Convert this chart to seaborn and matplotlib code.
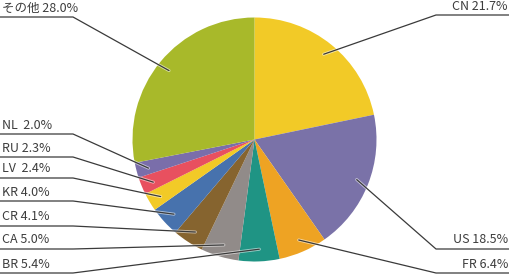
import numpy as np
import matplotlib
matplotlib.use("Agg")
import matplotlib.pyplot as plt
import matplotlib.patheffects as pe
import seaborn as sns

# ---- data ----
countries = ["CN", "US", "FR", "BR", "CA", "CR", "KR", "LV", "RU", "NL", "その他"]
shares = [21.7, 18.5, 6.4, 5.4, 5.0, 4.1, 4.0, 2.4, 2.3, 2.0, 28.0]
colors = ["#F2CA27", "#7A72A8", "#EEA323", "#1F9484", "#918B89", "#86642F",
          "#4772AD", "#F2CA27", "#E8505F", "#7A6EAA", "#A8B92A"]
# label layout (pixel rows of the underline, side of the chart)
label_side = ["R", "R", "R", "L", "L", "L", "L", "L", "L", "L", "L"]
underline_y = [15, 249, 273, 273, 249, 226, 201, 178, 157, 134, 17]
name_gap = [" ", " ", " ", " ", " ", " ", " ", "  ", " ", "  ", " "]

sns.set_theme(style="white")
plt.rcParams["font.family"] = ["Noto Sans CJK JP", "DejaVu Sans"]

W, H = 510, 275
fig = plt.figure(figsize=(W / 100, H / 100), dpi=100)
ax = fig.add_axes([0, 0, 1, 1])

cx, cy, R = 254.5, H - 139.5, 122
wedges, _ = ax.pie(shares, colors=colors, startangle=90, counterclock=False,
                   center=(cx, cy), radius=R, wedgeprops=dict(linewidth=0))
ax.set_xlim(0, W)
ax.set_ylim(0, H)
ax.set_aspect("equal")
ax.axis("off")

line_col = "#3a3a3a"
text_col = "#3d3d3d"
halo = [pe.Stroke(linewidth=2.2, foreground=(1, 1, 1, 0.55)), pe.Normal()]

cum = 0.0
for name, v, side, uy, gap in zip(countries, shares, label_side, underline_y, name_gap):
    theta = np.deg2rad(90 - (cum + v / 2) / 100 * 360)
    cum += v
    axp = cx + 0.9 * R * np.cos(theta)
    ayp = cy + 0.9 * R * np.sin(theta)
    yl = H - uy
    label = f"{name}{gap}{v:.1f}%"
    if side == "L":
        xs = [0, 73, axp]
        ax.text(2, yl + 5.5, label, ha="left", va="baseline", fontsize=9, color=text_col)
    else:
        xs = [W, 436, axp]
        ax.text(508, yl + 5.5, label, ha="right", va="baseline", fontsize=9, color=text_col)
    ax.plot(xs, [yl, yl, ayp], color=line_col, lw=0.9, solid_capstyle="round",
            path_effects=halo, clip_on=False)

fig.savefig("out.png", dpi=100)
